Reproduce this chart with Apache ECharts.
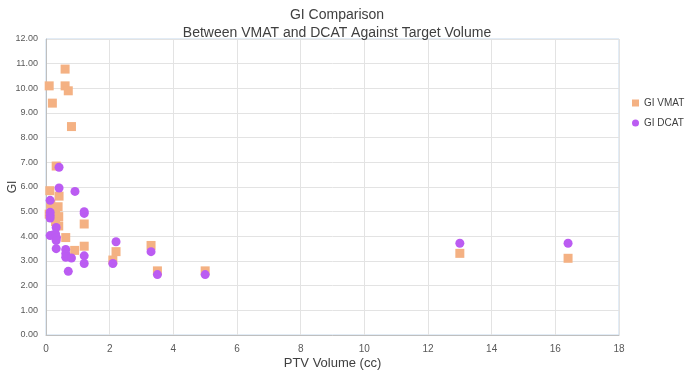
<!DOCTYPE html>
<html>
<head>
<meta charset="utf-8">
<script src="https://cdn.jsdelivr.net/npm/echarts@6/dist/echarts.min.js"></script>
<style>
  html, body { margin: 0; padding: 0; background: #fff; }
  #chart { width: 685px; height: 370px; }
</style>
</head>
<body>
<div id="chart"></div>
<script>
// GI values (x = PTV volume in cc)
const vmatX = [0.6, 0.1, 0.6, 0.7, 0.2, 0.8, 0.32, 0.12, 0.41, 0.15, 0.38, 0.3, 0.1, 0.4, 0.3, 0.4, 0.62, 1.2, 0.9, 1.2, 2.1, 2.2, 3.3, 3.5, 5.0, 13.0, 16.4];
const vmatY = [10.78, 10.1, 10.1, 9.9, 9.4, 8.45, 6.85, 5.85, 5.63, 5.3, 5.2, 4.95, 4.9, 4.8, 4.6, 4.42, 3.95, 4.5, 3.43, 3.6, 3.04, 3.38, 3.63, 2.6, 2.6, 3.31, 3.11];

const dcatX = [0.41, 0.41, 0.91, 0.13, 0.13, 0.13, 0.13, 1.2, 1.2, 0.32, 0.13, 0.22, 0.3, 0.33, 0.32, 0.32, 0.62, 0.62, 0.62, 0.8, 1.2, 1.2, 0.7, 2.2, 2.1, 3.3, 3.5, 5.0, 13.0, 16.4];
const dcatY = [6.8, 5.96, 5.82, 5.46, 4.98, 4.85, 4.74, 5.0, 4.93, 4.36, 4.03, 4.05, 4.1, 3.95, 3.83, 3.5, 3.47, 3.3, 3.15, 3.12, 3.21, 2.9, 2.58, 3.78, 2.9, 3.38, 2.45, 2.45, 3.72, 3.72];

const seriesNames = ['GI VMAT', 'GI DCAT'];
const titleLines = ['GI Comparison', 'Between VMAT and DCAT Against Target Volume'];

const font = 'Liberation Sans';
const txt = '#404040';

function pairs(xs, ys) {
  return xs.map((x, i) => [x, ys[i]]);
}

const myChart = echarts.init(document.getElementById('chart'));
const option = {
  animation: false,
  textStyle: { fontFamily: font },
  title: {
    text: titleLines.join('\n'),
    left: 332,
    top: 1,
    textAlign: 'center',
    textStyle: { fontFamily: font, fontSize: 14, fontWeight: 'normal', color: txt, lineHeight: 18 }
  },
  grid: {
    left: 46, right: 66, top: 39, bottom: 35,
    outerBoundsMode: 'none',
    containLabel: false,
    show: true,
    borderColor: '#c5d9ec',
    borderWidth: 1
  },
  legend: {
    orient: 'vertical',
    left: 632,
    top: 98,
    padding: 0,
    itemWidth: 7,
    itemHeight: 7,
    itemGap: 10,
    textStyle: { fontFamily: font, fontSize: 10, color: txt },
    data: [
      { name: seriesNames[0], icon: 'rect' },
      { name: seriesNames[1], icon: 'circle' }
    ]
  },
  xAxis: {
    type: 'value',
    min: 0, max: 18, interval: 2,
    name: 'PTV Volume (cc)',
    nameLocation: 'middle',
    nameGap: 22,
    nameMoveOverlap: false,
    nameTextStyle: { fontFamily: font, fontSize: 13, color: txt },
    axisLine: { lineStyle: { color: '#bfbfbf' } },
    axisTick: { show: false },
    axisLabel: { color: '#595959', fontSize: 10, margin: 9 },
    splitLine: { lineStyle: { color: '#e3e3e3' } }
  },
  yAxis: {
    type: 'value',
    min: 0, max: 12, interval: 1,
    name: 'GI',
    nameLocation: 'middle',
    nameGap: 27,
    nameMoveOverlap: false,
    nameTextStyle: { fontFamily: font, fontSize: 12, color: txt },
    axisLine: { show: true, lineStyle: { color: '#bfbfbf' } },
    axisTick: { show: false },
    axisLabel: { color: '#595959', fontSize: 9, margin: 8, formatter: v => v.toFixed(2) },
    splitLine: { lineStyle: { color: '#e3e3e3' } }
  },
  series: [
    {
      name: seriesNames[0],
      type: 'scatter',
      symbol: 'rect',
      symbolSize: 9,
      itemStyle: { color: '#f4b183', opacity: 1 },
      data: pairs(vmatX, vmatY)
    },
    {
      name: seriesNames[1],
      type: 'scatter',
      symbol: 'circle',
      symbolSize: 9,
      itemStyle: { color: '#bb5cf2', opacity: 1 },
      data: pairs(dcatX, dcatY)
    }
  ]
};
myChart.setOption(option);
</script>
</body>
</html>
